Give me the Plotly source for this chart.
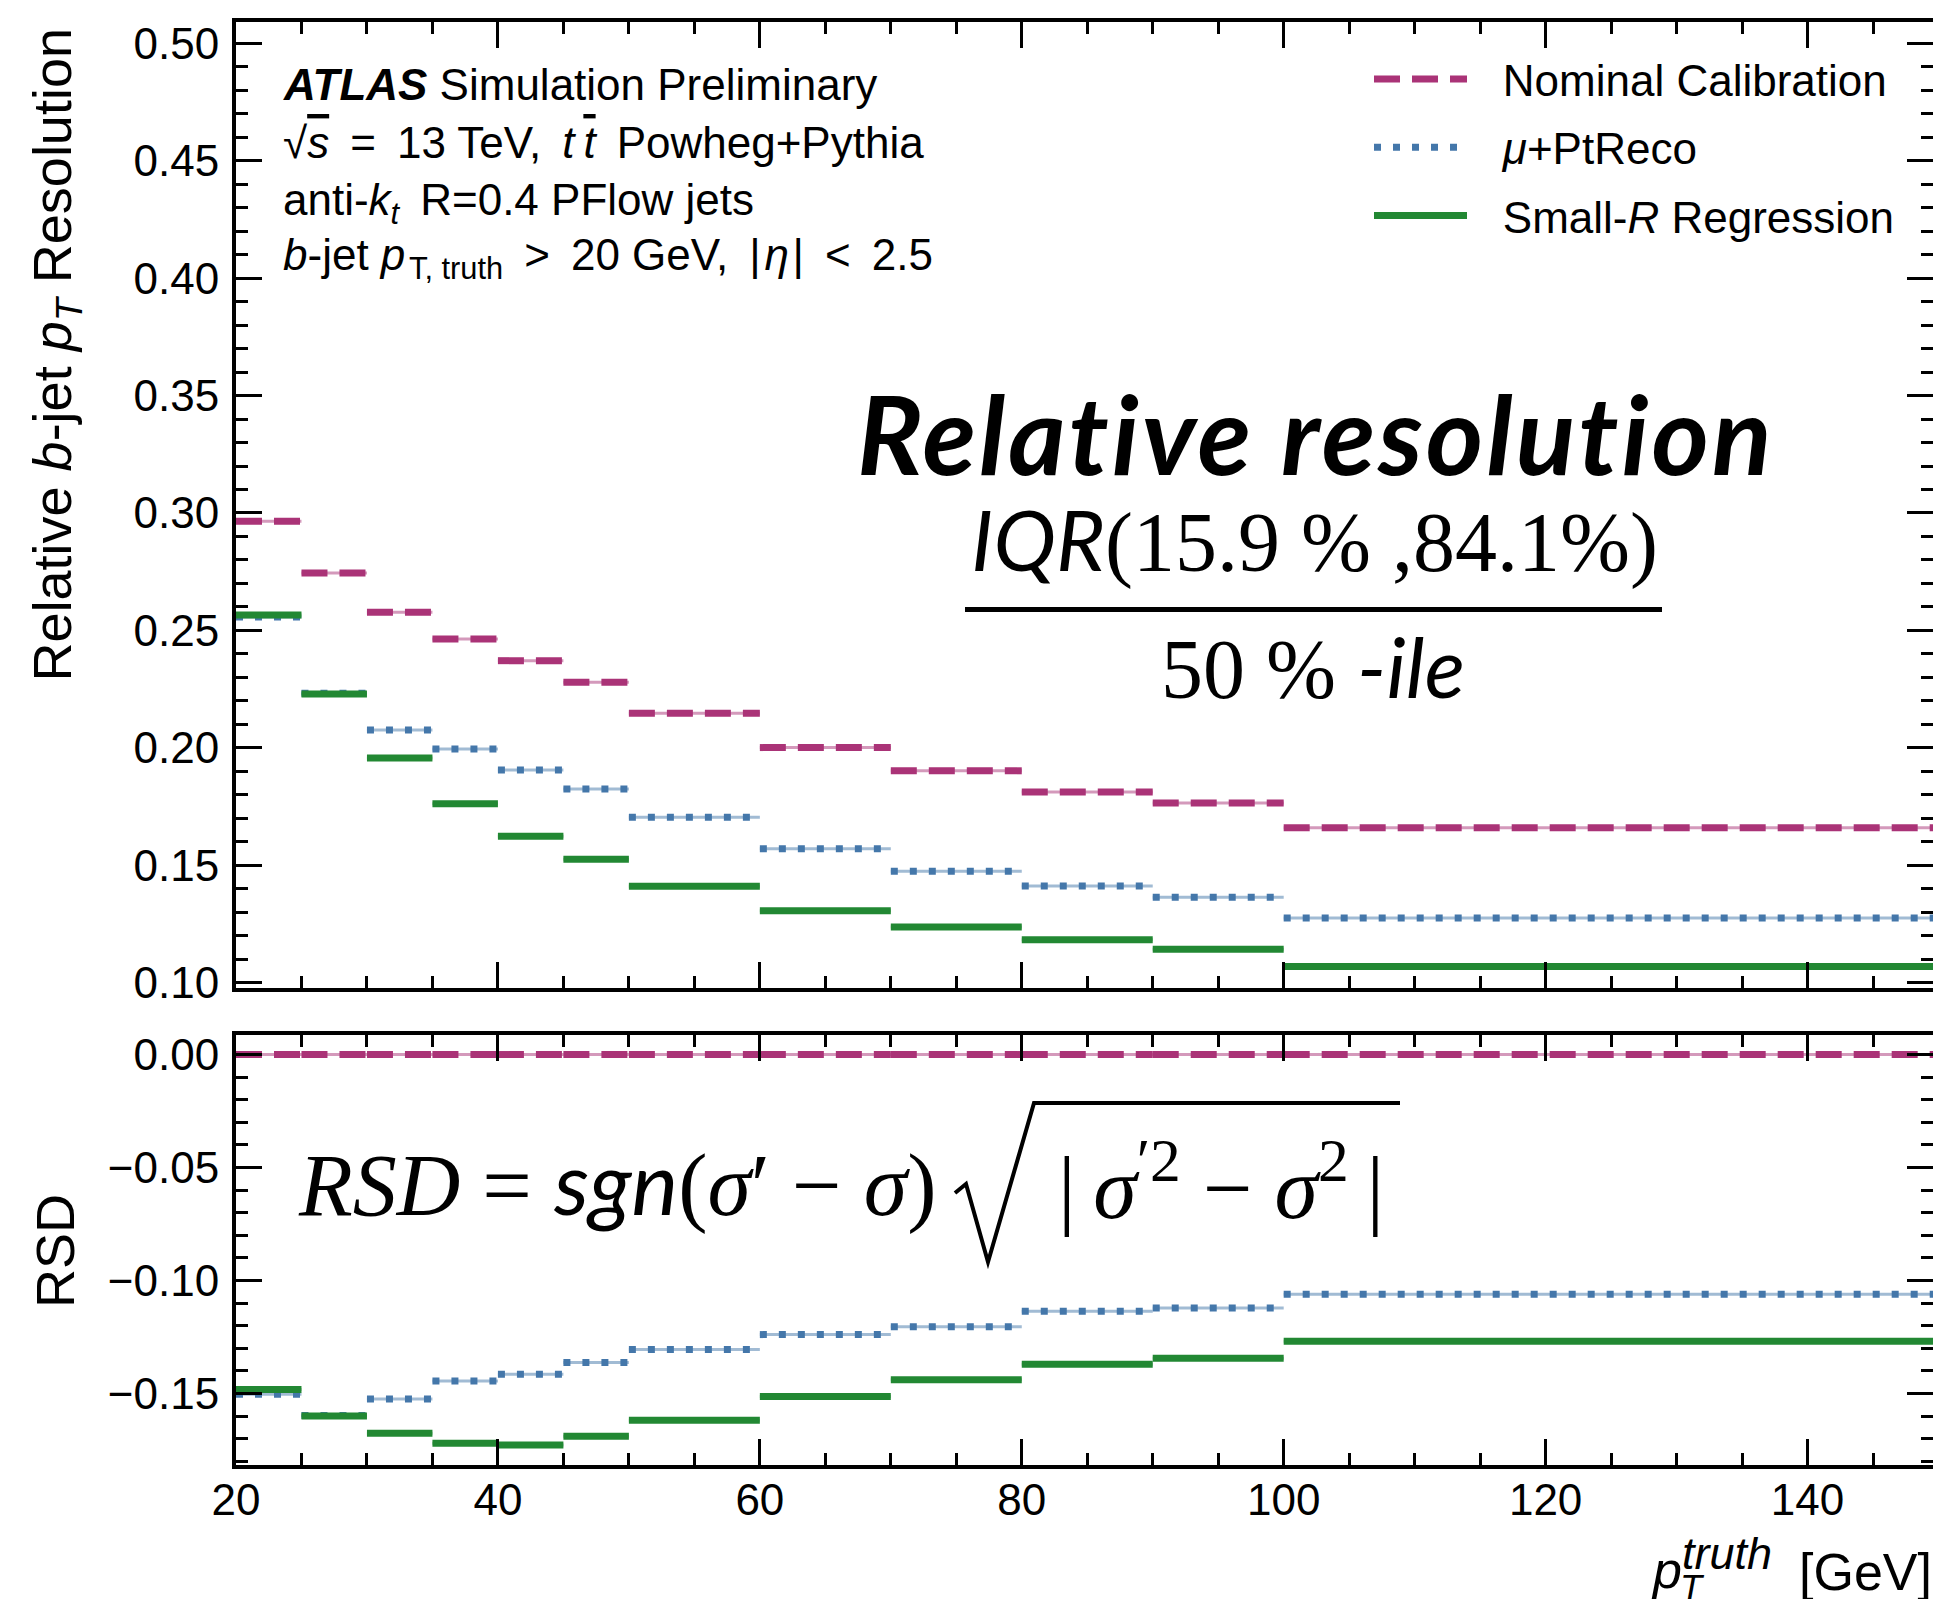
import plotly.graph_objects as go

# ---------------- data ----------------
bin_edges = [20, 25, 30, 35, 40, 45, 50, 60, 70, 80, 90, 100, 150]

res_nominal = [0.2965, 0.2744, 0.2577, 0.2463, 0.2371, 0.2279, 0.2147, 0.2001, 0.1902, 0.1812, 0.1765, 0.1660]
res_mupt    = [0.2557, 0.2232, 0.2076, 0.1995, 0.1905, 0.1824, 0.1704, 0.1570, 0.1474, 0.1411, 0.1363, 0.1275]
res_smallr  = [0.2565, 0.2229, 0.1956, 0.1762, 0.1623, 0.1525, 0.1410, 0.1306, 0.1237, 0.1183, 0.1142, 0.1069]

rsd_nominal = [0.0, 0.0, 0.0, 0.0, 0.0, 0.0, 0.0, 0.0, 0.0, 0.0, 0.0, 0.0]
rsd_mupt    = [-0.1503, -0.1597, -0.1524, -0.1444, -0.1415, -0.1362, -0.1305, -0.1239, -0.1204, -0.1136, -0.1121, -0.1061]
rsd_smallr  = [-0.1482, -0.1599, -0.1676, -0.1720, -0.1727, -0.1689, -0.1618, -0.1513, -0.1439, -0.1370, -0.1344, -0.1269]

series_names = ["\u2002\u2009Nominal Calibration", "\u2002\u2009<i>μ</i>+PtReco", "\u2002\u2009Small-<i>R</i> Regression"]
series_colors = ["#AA3377", "#4477AA", "#228833"]
series_faint = ["rgba(170,51,119,0.5)", "rgba(68,119,170,0.5)", "rgba(34,136,51,0.5)"]
series_dash = ["26px,12px", "7px,12px", "solid"]

x_tick_vals = [20, 40, 60, 80, 100, 120, 140]
top_y_ticks = [0.10, 0.15, 0.20, 0.25, 0.30, 0.35, 0.40, 0.45, 0.50]
bot_y_ticks = [0.00, -0.05, -0.10, -0.15]

# ---------------- geometry helpers (figure pixels -> paper) ----------------
W, H = 1933, 1599
ML, MR, MT, MB = 236, 0, 22, 134
PW, PH = W - ML - MR, H - MT - MB


def px(X):
    return (X - ML) / PW


def py(Y):
    return (H - MB - Y) / PH


def steps(vals):
    xs, ys = [], []
    for lo, hi, v in zip(bin_edges[:-1], bin_edges[1:], vals):
        xs += [lo, hi, None]
        ys += [v, v, None]
    return xs, ys


fig = go.Figure()

top_sets = [res_nominal, res_mupt, res_smallr]
bot_sets = [rsd_nominal, rsd_mupt, rsd_smallr]

for panel, sets, xa, ya in [(0, top_sets, "x", "y"), (1, bot_sets, "x2", "y2")]:
    for i, vals in enumerate(sets):
        xs, ys = steps(vals)
        fig.add_trace(go.Scatter(
            x=xs, y=ys, mode="lines", xaxis=xa, yaxis=ya,
            line=dict(color=series_faint[i], width=3),
            showlegend=False, hoverinfo="skip", connectgaps=False))
        fig.add_trace(go.Scatter(
            x=xs, y=ys, mode="lines", xaxis=xa, yaxis=ya,
            name=series_names[i], legendgroup=f"g{i}",
            line=dict(color=series_colors[i], width=7, dash=series_dash[i]),
            showlegend=(panel == 0), connectgaps=False))

axis_common = dict(
    showgrid=False, zeroline=False, showline=True, linewidth=4, linecolor="black",
    ticks="inside", tickcolor="black", tickwidth=3, mirror="allticks",
    automargin=False,
)
minor_x = dict(dtick=5, tick0=0, ticks="inside", ticklen=12, tickwidth=2.5, tickcolor="black")
minor_y = dict(dtick=0.01, tick0=0, ticks="inside", ticklen=12, tickwidth=2.5, tickcolor="black")

fig.update_layout(
    width=W, height=H,
    margin=dict(l=ML, r=MR, t=MT, b=MB, autoexpand=False),
    plot_bgcolor="white", paper_bgcolor="white",
    font=dict(family="Liberation Sans, Arial, sans-serif", size=44, color="black"),
    xaxis=dict(axis_common, domain=[0, 1], anchor="y", range=[20, 149.58],
               tickvals=x_tick_vals, showticklabels=False, ticklen=26, minor=minor_x),
    yaxis=dict(axis_common, domain=[py(988), 1], anchor="x", range=[0.0977, 0.5091],
               tickvals=top_y_ticks, tickformat=".2f", ticklen=26, ticklabelstandoff=4,
               tickfont=dict(size=44), minor=minor_y),
    xaxis2=dict(axis_common, domain=[0, 1], anchor="y2", range=[20, 149.58],
                tickvals=x_tick_vals, showticklabels=True, ticklen=26, ticklabelstandoff=-7,
                tickfont=dict(size=44), minor=minor_x),
    yaxis2=dict(axis_common, domain=[0, py(1035)], anchor="x2", range=[-0.1816, 0.00864],
                tickvals=bot_y_ticks, tickformat=".2f", ticklen=26, ticklabelstandoff=4,
                tickfont=dict(size=44), minor=minor_y),
    legend=dict(x=px(1369), y=py(44), xanchor="left", yanchor="top",
                bgcolor="rgba(0,0,0,0)", borderwidth=0, itemwidth=93,
                tracegroupgap=8, traceorder="grouped",
                font=dict(size=44, family="Liberation Sans, Arial, sans-serif")),
)

ann = []


def add_text(text, X, Y, size=44, xanchor="left", yanchor="middle", family=None, angle=0):
    d = dict(text=text, xref="paper", yref="paper", x=px(X), y=py(Y),
             xanchor=xanchor, yanchor=yanchor, showarrow=False,
             font=dict(size=size, color="black"), textangle=angle)
    if family:
        d["font"]["family"] = family
    ann.append(d)


TS = "\u2009"  # thin space
HS = "\u200a"  # hair space
# top-left labels
add_text("<b><i>ATLAS</i></b> Simulation Preliminary", 281, 84)
add_text("√<span style='text-decoration:overline'><i>s</i></span>" + TS + " =" + TS + " 13 TeV," + TS
         + " <i>t</i>" + TS + "<span style='text-decoration:overline'><i>t</i></span>" + TS + " Powheg+Pythia", 281, 142)
add_text("anti-<i>k</i><sub><i>t</i></sub>" + TS + " R=0.4 PFlow jets", 281, 203)
add_text("<i>b</i>-jet <i>p</i>" + HS + "<sub>T, truth</sub>" + TS + " &gt;" + TS + " 20 GeV," + TS + " |"
         + HS + "<i>η</i>" + HS + "|" + TS + " &lt;" + TS + " 2.5", 281, 258)

# Relative resolution block
add_text("<span style='letter-spacing:3px'><b><i>Relative resolution</i></b></span>", 1315, 432, size=110,
         xanchor="center", family="Lato, sans-serif")
add_text("<span style='font-family:Lato'><i>IQR</i></span>(15.9 % ,84.1%)", 1314, 539, size=84,
         xanchor="center", family="Liberation Serif, serif")
add_text("50 % <span style='font-family:Lato'><i>-ile</i></span>", 1313, 666, size=84,
         xanchor="center", family="Liberation Serif, serif")

# RSD formula
add_text("<i>RSD</i> = <span style='font-family:Lato'><i>sgn</i></span>(<i>σ</i>′ − <i>σ</i>)", 296, 1181,
         size=88, family="Liberation Serif, serif")
add_text("|" + TS + "<i>σ</i><sup>′2</sup> − <i>σ</i><sup>2</sup>" + TS + "|", 1056, 1181, size=88,
         family="Liberation Serif, serif")

# axis titles
add_text("Relative <i>b</i>-jet <i>p</i><sub><i>T</i></sub> Resolution", 55, 27, size=54,
         xanchor="center", yanchor="top", angle=-90)
add_text("RSD", 55, 1251, size=54, xanchor="center", yanchor="middle", angle=-90)
add_text("[GeV]", 1934, 1572, size=52, xanchor="right")
add_text("<i>p</i>", 1649, 1570, size=52)
add_text("<i>truth</i>", 1680, 1553, size=45)
add_text("<i>T</i>", 1678, 1588, size=36)

fig.update_layout(annotations=ann)

shapes = [
    # fraction bar
    dict(type="line", xref="paper", yref="paper", x0=px(965), x1=px(1662), y0=py(609.5), y1=py(609.5),
         line=dict(color="black", width=5)),
    # radical sign
    dict(type="path", xref="paper", yref="paper",
         path=f"M {px(955)},{py(1193)} L {px(966)},{py(1184)} L {px(988)},{py(1262)} L {px(1034)},{py(1103)} L {px(1400)},{py(1103)}",
         line=dict(color="black", width=4)),
]
fig.update_layout(shapes=shapes)

fig.write_html("out.html")
